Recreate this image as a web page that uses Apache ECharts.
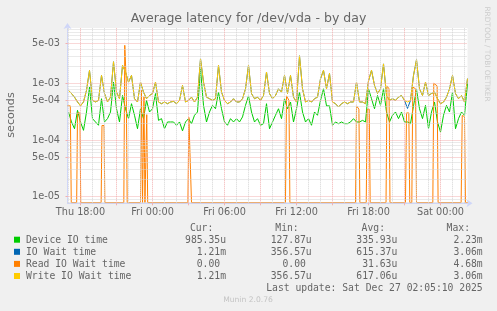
<!DOCTYPE html>
<html><head><meta charset="utf-8">
<script src="https://cdn.jsdelivr.net/npm/echarts@6/dist/echarts.min.js"></script>
<style>html,body{margin:0;padding:0;background:#f0f0f0;}#c{width:497px;height:311px;}</style>
</head><body><div id="c"></div>
<script>
// ---------- data ----------
const chartTitle = 'Average latency for /dev/vda - by day';
const yAxisTitle = 'seconds';
const watermark = 'RRDTOOL / TOBI OETIKER';
const sampleStartHour = -1.0;   // hours relative to Thu 18:00
const sampleStepHour = 0.25;    // 15 minutes between samples
const deviceIoUs = [312,208,158,334,208,148,312,860,238,208,182,535,208,238,312,1050,356,208,610,356,238,437,273,158,356,238,500,312,
356,660,222,238,158,208,208,208,182,208,145,208,238,194,273,312,1800,409,208,312,409,356,700,356,208,182,238,208,238,
208,255,409,600,312,208,238,182,194,437,158,208,273,356,238,535,356,468,208,356,700,312,208,238,182,312,273,500,800,
400,400,182,208,194,208,194,194,208,238,208,208,222,208,800,535,356,610,409,800,312,208,273,312,238,312,208,208,194,
400,780,356,238,409,158,312,468,208,138,273,409,312,700,158,238,312,273,985];
const ioWaitUs = [750,660,570,470,400,470,750,1690,500,470,500,1380,660,470,570,2400,700,535,2080,1580,1050,1380,535,468,1050,700,535,610,
660,1050,468,437,468,437,468,480,437,500,920,468,500,570,468,570,2700,1050,570,535,500,535,2080,700,500,437,468,535,468,
468,535,800,2080,660,535,570,500,610,1580,660,535,610,800,700,1380,660,1380,570,468,3060,800,468,500,468,535,570,1200,1700,
800,1500,468,437,382,437,468,437,468,468,1050,468,468,437,1100,1700,920,660,800,2200,610,500,535,500,570,610,500,360,500,
1380,2600,800,610,1050,610,660,700,535,437,468,570,800,1380,660,535,610,468,1210];
const writeWaitUs = [750,660,570,470,400,470,750,1690,500,470,500,1380,660,470,570,2400,700,535,2080,1580,1050,1380,535,468,1050,700,535,610,
660,1050,468,437,468,437,468,480,437,500,920,468,500,570,468,570,2700,1050,570,535,500,535,2080,700,500,437,468,535,468,
468,535,800,2080,660,535,570,500,610,1580,660,535,610,800,700,1380,660,1380,570,468,3060,800,468,500,468,535,570,1200,1700,
800,1500,468,437,382,437,468,437,468,468,1050,468,468,437,1100,1700,920,660,800,2200,610,500,535,500,570,610,500,468,500,
1380,2600,800,610,1050,610,660,700,535,437,468,570,800,1380,660,535,610,468,1210];
// read wait is zero most of the time: (hour, µs) points
const readHours = [-1.083,-0.85,-0.77, -0.32,-0.25,-0.05,0.02, 1.72,1.79,1.96,2.03, 3.61,3.69,3.81,3.89,
5.0,5.08,5.17, 5.21,5.29,5.37, 5.44,5.52,5.6, 8.95,9.03,9.17,9.25, 17.08,17.17,17.37,17.45,
22.92,23.0,23.2,23.28, 23.81,23.89,24.06,24.14, 25.46,25.54,25.71,25.79, 27.08,27.17,27.36,27.44,
27.61,27.69,27.92,28.0, 29.36,29.44,29.72,29.8, 31.72,31.81,32.0,32.08, 32.25];
const readWaitUs = [400,400,0, 0,300,300,0, 0,180,180,0, 0,4680,1100,0,
0,750,0, 0,580,0, 0,280,0, 0,250,250,0, 0,600,500,0,
0,400,350,0, 0,350,350,0, 0,900,800,0, 0,300,300,0,
0,860,800,0, 0,1000,900,0, 0,270,260,0, 0];
const xTickHours = [0, 6, 12, 18, 24, 30];
const xTickLabels = ['Thu 18:00', 'Fri 00:00', 'Fri 06:00', 'Fri 12:00', 'Fri 18:00', 'Sat 00:00'];
const yTickValues = [5e-3, 1e-3, 5e-4, 1e-4, 5e-5, 1e-5];
const yTickLabels = ['5e-03', '1e-03', '5e-04', '1e-04', '5e-05', '1e-05'];
const yMajorGrid = [1e-5, 5e-5, 1e-4, 5e-4, 1e-3, 5e-3];
const yMinorGrid = [8e-6, 9e-6, 2e-5, 3e-5, 4e-5, 6e-5, 7e-5, 8e-5, 9e-5, 2e-4, 3e-4, 4e-4, 6e-4, 7e-4, 8e-4, 9e-4,
  2e-3, 3e-3, 4e-3, 6e-3, 7e-3, 8e-3, 9e-3];
const xMajorGrid = [0, 3, 6, 9, 12, 15, 18, 21, 24, 27, 30];
const xMinorGrid = [-1, 1, 2, 4, 5, 7, 8, 10, 11, 13, 14, 16, 17, 19, 20, 22, 23, 25, 26, 28, 29, 31, 32];
const legendNames = ['Device IO time', 'IO Wait time', 'Read IO Wait time', 'Write IO Wait time'];
const legendColors = ['#00cc00', '#0066b3', '#ff8000', '#ffcc00'];
const legendHeaders = ['Cur:', 'Min:', 'Avg:', 'Max:'];
const curVals = ['985.35u', '1.21m', '0.00 ', '1.21m'];
const minVals = ['127.87u', '356.57u', '0.00 ', '356.57u'];
const avgVals = ['335.93u', '615.37u', '31.63u', '617.06u'];
const maxVals = ['2.23m', '3.06m', '4.68m', '3.06m'];
const lastUpdate = 'Last update: Sat Dec 27 02:05:10 2025';
const footer = 'Munin 2.0.76';

// ---------- layout / style ----------
const xMin = -13 / 12, xMax = 32.25;
const yMin = 7.65e-6, yMax = 9.45e-3;
const axisColor = '#cfd6f8';
const fontColor = '#666666';
const minorGridStyle = { color: '#d4d4d4', type: [1, 1], width: 1, opacity: 1 };
const majorGridStyle = { color: '#f2b0b0', type: [1, 1], width: 1, opacity: 1 };

const series = (arr) => arr.map((v, i) => [sampleStartHour + i * sampleStepHour, v * 1e-6]);
const readData = readHours.map((h, i) => [h, readWaitUs[i] === 0 ? yMin * 1.03 : readWaitUs[i] * 1e-6]);

const gridLines = [];
xMinorGrid.forEach(h => gridLines.push({ xAxis: h, lineStyle: minorGridStyle }));
yMinorGrid.forEach(v => gridLines.push({ yAxis: v, lineStyle: minorGridStyle }));
xMajorGrid.forEach(h => gridLines.push({ xAxis: h, lineStyle: majorGridStyle }));
yMajorGrid.forEach(v => gridLines.push({ yAxis: v, lineStyle: majorGridStyle }));

function lineSeries(name, data, color, z) {
  return { name, type: 'line', data, color, symbol: 'none', showSymbol: false, z,
    lineStyle: { width: 1, color }, emphasis: { disabled: true }, silent: true, animation: false };
}

const graphics = [];
const mono = 'DejaVu Sans Mono';
const fs = 9.72;
function txt(x, y, text, align, font, size, color, rot) {
  const g = { type: 'text', x, y, silent: true,
    style: { text, align, verticalAlign: 'middle', fontFamily: font, fontSize: size, fill: color } };
  if (rot) g.rotation = rot;
  graphics.push(g);
}
txt(248.5, 19, chartTitle, 'center', 'DejaVu Sans', 12.5, fontColor);
txt(11, 115, yAxisTitle, 'center', 'DejaVu Sans', 11.1, fontColor, Math.PI / 2);
txt(487, 54, watermark, 'center', 'DejaVu Sans', 7.4, '#cccccc', -Math.PI / 2);
const colRight = [226, 311.7, 397.3, 482.7];
const headRight = [213.3, 298.7, 385, 470];
legendHeaders.forEach((h, i) => txt(headRight[i], 228, h, 'right', mono, fs, fontColor));
const rowY = [240.1, 252.2, 264.3, 276.4];
legendNames.forEach((n, r) => {
  graphics.push({ type: 'rect', silent: true, shape: { x: 14, y: rowY[r] - 3.4, width: 6, height: 6 },
    style: { fill: legendColors[r] } });
  txt(26, rowY[r], n, 'left', mono, fs, fontColor);
  [curVals, minVals, avgVals, maxVals].forEach((col, c) => txt(colRight[c], rowY[r], col[r], 'right', mono, fs, fontColor));
});
txt(482.7, 288.4, lastUpdate, 'right', mono, fs, fontColor);
txt(248, 300.5, footer, 'center', 'DejaVu Sans', 7.6, '#c4c4c4');

const chart = echarts.init(document.getElementById('c'), null, { renderer: 'canvas' });
chart.setOption({
  backgroundColor: '#f0f0f0',
  animation: false,
  grid: { left: 67.5, right: 29.5, top: 28, bottom: 107.7, show: true, backgroundColor: '#ffffff', borderWidth: 0,
    outerBoundsMode: 'none', containLabel: false },
  xAxis: {
    type: 'value', min: xMin, max: xMax,
    axisLine: { show: true, onZero: false, lineStyle: { color: axisColor, width: 1 },
      symbol: ['none', 'arrow'], symbolSize: [6, 6], symbolOffset: [0, 5] },
    axisTick: { show: true, customValues: xMajorGrid, length: 2, lineStyle: { color: '#f2b0b0' } },
    axisLabel: { show: true, customValues: xTickHours, margin: 4, color: fontColor, fontFamily: 'DejaVu Sans', fontSize: fs,
      formatter: v => { const i = xTickHours.findIndex(h => Math.abs(h - v) < 1e-6); return i >= 0 ? xTickLabels[i] : ''; } },
    splitLine: { show: false }
  },
  yAxis: {
    type: 'log', logBase: 10, min: yMin, max: yMax,
    axisLine: { show: true, onZero: false, lineStyle: { color: axisColor, width: 1 },
      symbol: ['none', 'arrow'], symbolSize: [6, 6], symbolOffset: [0, 5] },
    axisTick: { show: true, customValues: yMajorGrid, length: 2, lineStyle: { color: '#f2b0b0' } },
    axisLabel: { show: true, customValues: yTickValues, margin: 7.5, color: fontColor, fontFamily: 'DejaVu Sans', fontSize: fs,
      formatter: v => { const i = yTickValues.findIndex(t => Math.abs(Math.log10(t) - Math.log10(v)) < 1e-6); return i >= 0 ? yTickLabels[i] : ''; } },
    splitLine: { show: false }, minorSplitLine: { show: false }
  },
  series: [
    { type: 'line', data: [], silent: true, z: 1, animation: false,
      markLine: { silent: true, precision: 12, symbol: ['none', 'none'], label: { show: false }, animation: false, data: gridLines } },
    lineSeries(legendNames[0], series(deviceIoUs), legendColors[0], 2),
    lineSeries(legendNames[1], series(ioWaitUs), legendColors[1], 2),
    lineSeries(legendNames[2], readData, legendColors[2], 2),
    lineSeries(legendNames[3], series(writeWaitUs), legendColors[3], 2)
  ],
  graphic: graphics
});
</script></body></html>
